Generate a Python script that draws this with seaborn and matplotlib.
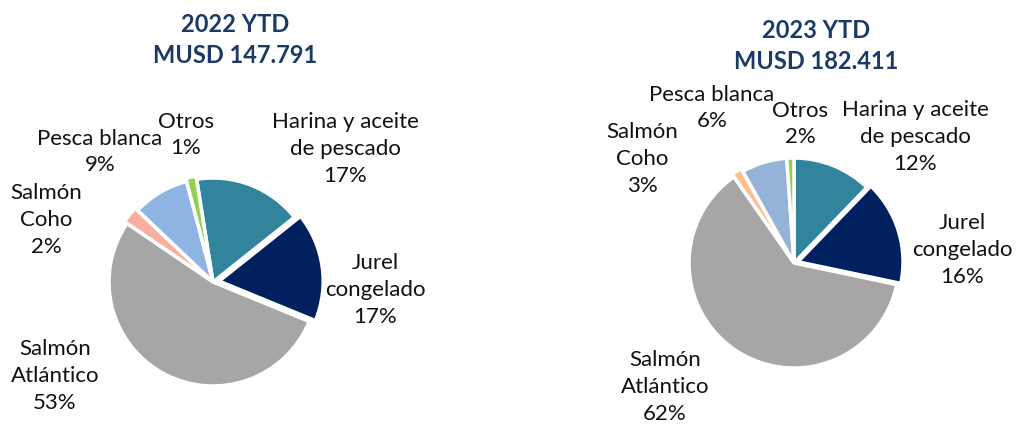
import numpy as np
import seaborn as sns
import matplotlib.pyplot as plt

# categories, clockwise from the top of each pie
categories = ["Harina y aceite\nde pescado", "Jurel\ncongelado", "Salmón\nAtlántico",
              "Salmón\nCoho", "Pesca blanca", "Otros"]

# slice sizes
shares_2022 = [16.8, 16.9, 53.3, 2.6, 8.8, 1.6]
shares_2023 = [12.2, 16.1, 62.0, 1.6, 7.0, 1.1]

# percentages as printed on the labels
pct_2022 = [17, 17, 53, 2, 9, 1]
pct_2023 = [12, 16, 62, 3, 6, 2]

titles = ["2022 YTD\nMUSD 147.791", "2023 YTD\nMUSD 182.411"]

colors_2022 = ["#31849B", "#002060", "#A6A6A6", "#F9AFA0", "#8EB4E3", "#92D050"]
colors_2023 = ["#31849B", "#002060", "#A6A6A6", "#FAC090", "#95B3D7", "#92D050"]

W, H = 1016, 425

sns.set_theme(style="white")
plt.rcParams["font.family"] = ["Lato", "DejaVu Sans"]

fig = plt.figure(figsize=(W / 100, H / 100), dpi=100)


def draw_pie(x0, w, cx, cy, r, shares, pct, colors, start, explode, label_px, title, title_px):
    ax = fig.add_axes([x0 / W, 0, w / W, 1])
    labels = [c + "\n" + str(p) + "%" for c, p in zip(categories, pct)]
    wedges, texts = ax.pie(shares, colors=colors, startangle=start, counterclock=False,
                           explode=explode, labels=labels,
                           wedgeprops=dict(edgecolor="white", linewidth=2.5),
                           textprops=dict(fontsize=16, color="#111111", linespacing=1.42))
    for t, (px, py) in zip(texts, label_px):
        t.set_position(((px - cx) / r, (cy - py) / r))
        t.set_ha("center")
        t.set_va("center")
        t.set_multialignment("center")
    ax.set_xlim((x0 - cx) / r, (x0 + w - cx) / r)
    ax.set_ylim((cy - H) / r, cy / r)
    ax.set_aspect("equal")
    ax.axis("off")
    fig.text(title_px[0] / W, 1 - title_px[1] / H, title, ha="center", va="center",
             fontsize=17, fontweight="bold", color="#1B3A66", linespacing=1.45)


draw_pie(0, 508, 213, 282, 104, shares_2022, pct_2022, colors_2022, 99,
         [0.0, 0.06, 0.0, 0.03, 0.0, 0.03],
         [(345, 149), (375, 290), (55, 376), (46, 220), (100, 152), (186, 135)],
         titles[0], (235, 40))

draw_pie(508, 508, 794, 263, 105, shares_2023, pct_2023, colors_2023, 90,
         [0.0, 0.04, 0.0, 0.03, 0.0, 0.0],
         [(915, 137), (962, 250), (665, 387), (642, 159), (712, 108), (800, 124)],
         titles[1], (816, 46))

fig.savefig("out.png", dpi=100, facecolor="white")
